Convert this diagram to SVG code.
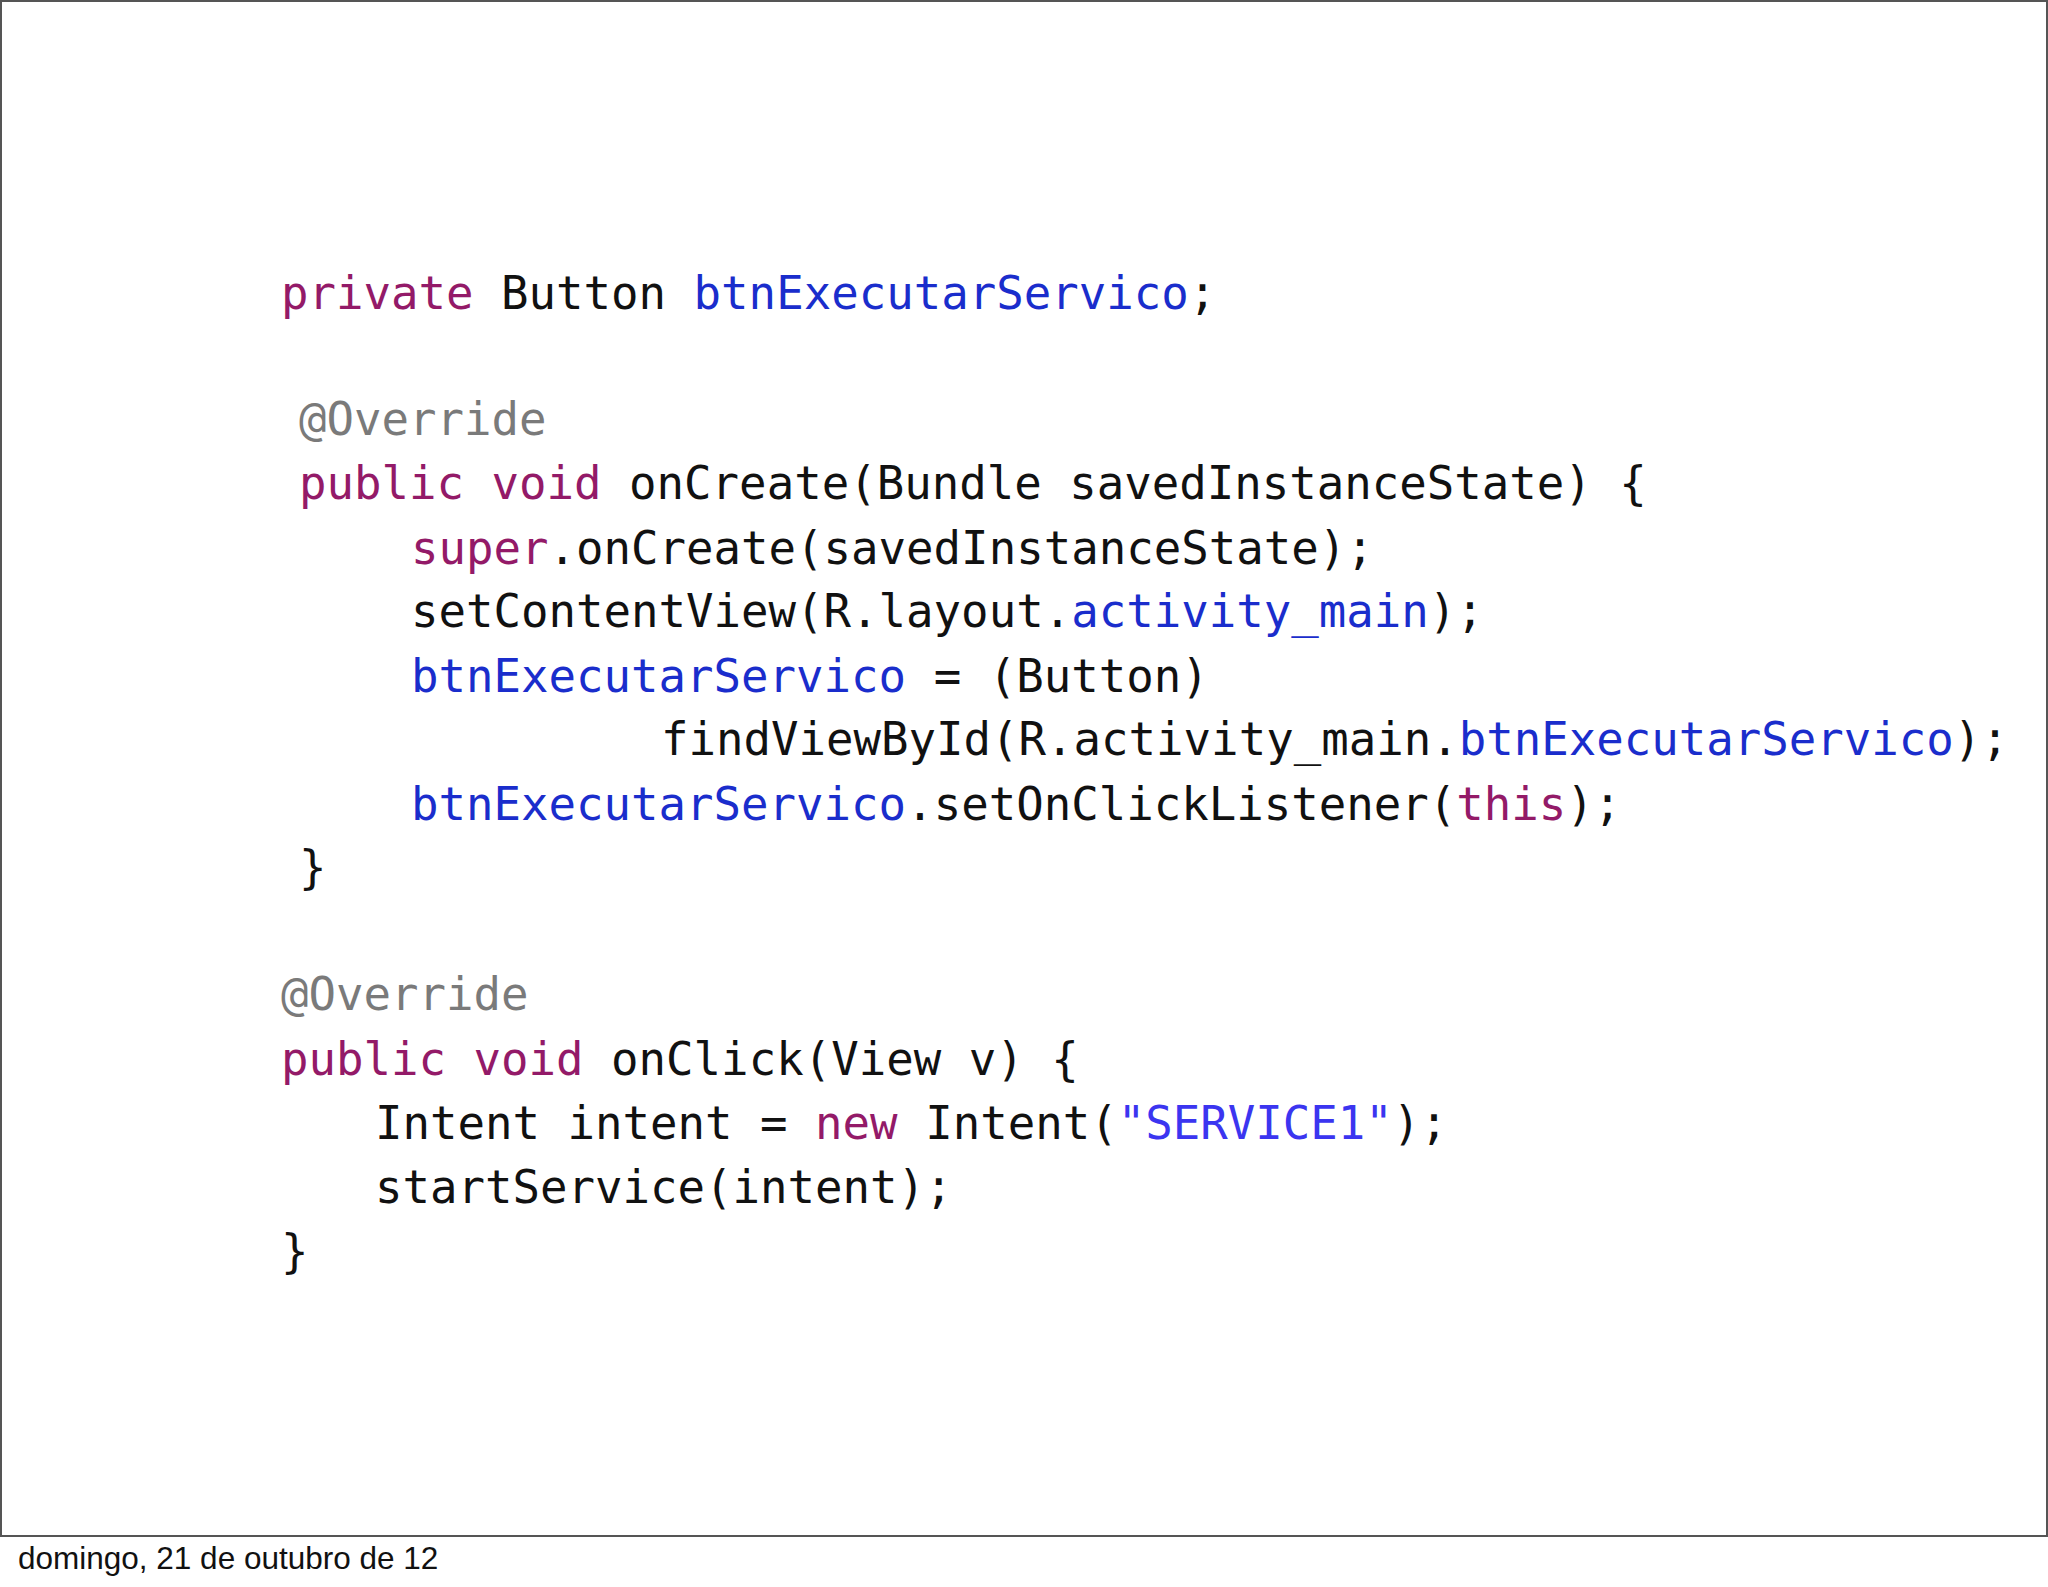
<svg xmlns="http://www.w3.org/2000/svg" width="2048" height="1587" viewBox="0 0 2048 1587">
<style>
.c{font-family:"DejaVu Sans Mono","Liberation Mono",monospace;font-size:45.7px;fill:#111;white-space:pre}
.k{fill:#931A68}.b{fill:#1A2DCC}.g{fill:#7A7A7A}.s{fill:#3B35F0}
.f{font-family:"Liberation Sans",Arial,sans-serif;font-size:31.5px;fill:#111}
</style>
<rect x="0" y="0" width="2048" height="1587" fill="#fff"/>
<rect x="1" y="1" width="2046" height="1535" fill="none" stroke="#555" stroke-width="2"/>
<g id="code" xml:space="preserve">
<text class="c" x="281" y="309"><tspan class="k">private</tspan> Button <tspan class="b">btnExecutarServico</tspan>;</text>
<text class="c" x="299" y="435"><tspan class="g">@Override</tspan></text>
<text class="c" x="299" y="499"><tspan class="k">public</tspan> <tspan class="k">void</tspan> onCreate(Bundle savedInstanceState) {</text>
<text class="c" x="411" y="564"><tspan class="k">super</tspan>.onCreate(savedInstanceState);</text>
<text class="c" x="411" y="627">setContentView(R.layout.<tspan class="b">activity_main</tspan>);</text>
<text class="c" x="411" y="692"><tspan class="b">btnExecutarServico</tspan> = (Button)</text>
<text class="c" x="661" y="755">findViewById(R.activity_main.<tspan class="b">btnExecutarServico</tspan>);</text>
<text class="c" x="411" y="820"><tspan class="b">btnExecutarServico</tspan>.setOnClickListener(<tspan class="k">this</tspan>);</text>
<text class="c" x="299" y="883">}</text>
<text class="c" x="281" y="1010"><tspan class="g">@Override</tspan></text>
<text class="c" x="281" y="1075"><tspan class="k">public</tspan> <tspan class="k">void</tspan> onClick(View v) {</text>
<text class="c" x="375" y="1139">Intent intent = <tspan class="k">new</tspan> Intent(<tspan class="s">"SERVICE1"</tspan>);</text>
<text class="c" x="375" y="1203">startService(intent);</text>
<text class="c" x="281" y="1267">}</text>
</g>
<text class="f" x="18" y="1569">domingo, 21 de outubro de 12</text>
</svg>
